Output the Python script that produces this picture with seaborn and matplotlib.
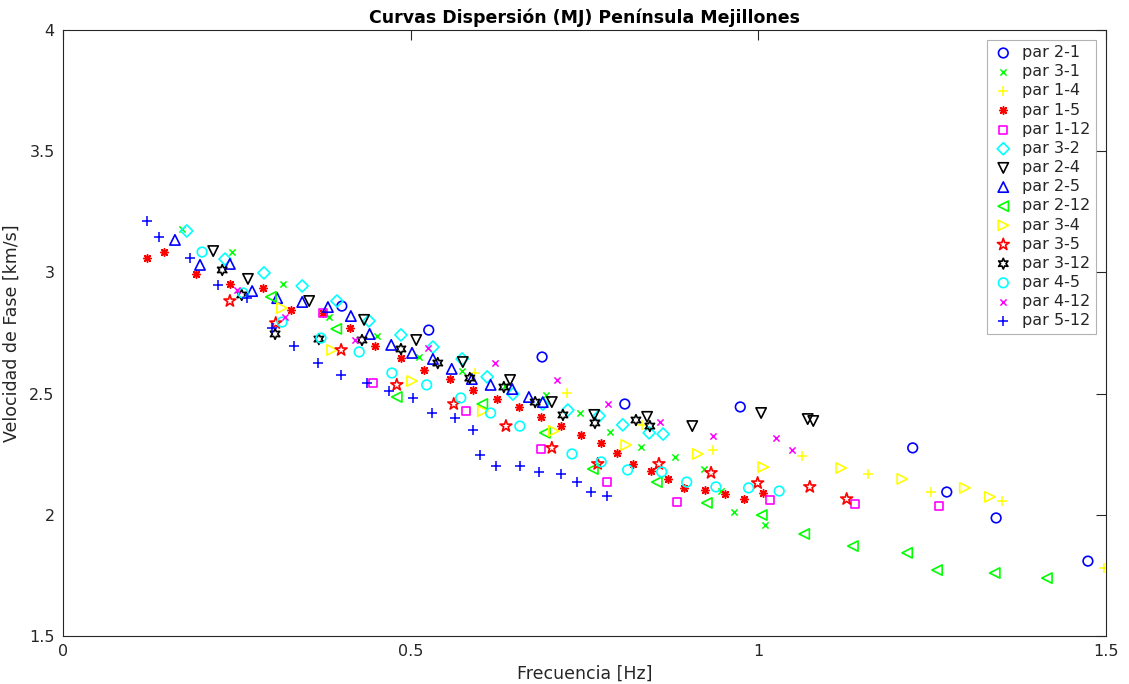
import matplotlib
matplotlib.use("Agg")
import matplotlib.pyplot as plt
import seaborn as sns
import numpy as np

# ---- data (Frecuencia [Hz], Velocidad de Fase [km/s]) ----
p21_x = [0.401, 0.526, 0.689, 0.808, 0.974, 1.222, 1.271, 1.342, 1.474]
p21_y = [2.861, 2.762, 2.651, 2.457, 2.445, 2.276, 2.094, 1.987, 1.809]

p31_x = [0.171, 0.243, 0.316, 0.383, 0.452, 0.512, 0.574, 0.636, 0.695, 0.744, 0.787, 0.831, 0.880, 0.922, 0.946, 0.965, 1.009]
p31_y = [3.179, 3.084, 2.952, 2.816, 2.738, 2.651, 2.593, 2.531, 2.494, 2.420, 2.342, 2.280, 2.239, 2.189, 2.098, 2.012, 1.958]

p14_x = [0.592, 0.725, 0.833, 0.935, 1.063, 1.158, 1.248, 1.350, 1.497]
p14_y = [2.585, 2.503, 2.371, 2.267, 2.243, 2.168, 2.094, 2.057, 1.781]

p15_x = [0.121, 0.145, 0.191, 0.240, 0.288, 0.328, 0.374, 0.413, 0.449, 0.486, 0.519, 0.557, 0.590, 0.624,
         0.656, 0.687, 0.716, 0.745, 0.774, 0.797, 0.820, 0.846, 0.870, 0.893, 0.923, 0.952, 0.979, 1.007]
p15_y = [3.059, 3.084, 2.993, 2.952, 2.936, 2.845, 2.833, 2.771, 2.696, 2.647, 2.597, 2.560, 2.515, 2.478,
         2.445, 2.404, 2.366, 2.329, 2.296, 2.255, 2.210, 2.181, 2.148, 2.111, 2.102, 2.086, 2.065, 2.090]

p112_x = [0.374, 0.446, 0.580, 0.687, 0.782, 0.883, 1.017, 1.139, 1.260]
p112_y = [2.833, 2.544, 2.428, 2.272, 2.135, 2.053, 2.061, 2.045, 2.036]

p32_x = [0.178, 0.233, 0.289, 0.344, 0.394, 0.440, 0.486, 0.532, 0.574, 0.610, 0.647, 0.690, 0.726, 0.771, 0.805, 0.843, 0.863]
p32_y = [3.171, 3.055, 2.998, 2.944, 2.882, 2.800, 2.742, 2.692, 2.643, 2.569, 2.498, 2.457, 2.432, 2.408, 2.371, 2.338, 2.333]

p24_x = [0.216, 0.266, 0.354, 0.433, 0.508, 0.575, 0.643, 0.703, 0.764, 0.840, 0.905, 1.004, 1.071, 1.079]
p24_y = [3.088, 2.973, 2.882, 2.804, 2.721, 2.630, 2.556, 2.465, 2.412, 2.404, 2.366, 2.420, 2.395, 2.387]

p25_x = [0.161, 0.197, 0.240, 0.272, 0.308, 0.344, 0.381, 0.414, 0.441, 0.472, 0.502, 0.532, 0.559, 0.588, 0.615, 0.646, 0.670, 0.690]
p25_y = [3.134, 3.031, 3.035, 2.923, 2.894, 2.878, 2.857, 2.820, 2.746, 2.701, 2.668, 2.643, 2.602, 2.560, 2.536, 2.519, 2.486, 2.465]

p212_x = [0.299, 0.393, 0.480, 0.603, 0.693, 0.762, 0.854, 0.926, 1.005, 1.066, 1.136, 1.214, 1.257, 1.340, 1.415]
p212_y = [2.899, 2.767, 2.486, 2.457, 2.338, 2.189, 2.135, 2.049, 1.999, 1.921, 1.871, 1.843, 1.772, 1.760, 1.739]

p34_x = [0.315, 0.387, 0.502, 0.604, 0.706, 0.810, 0.913, 1.007, 1.119, 1.207, 1.297, 1.333]
p34_y = [2.853, 2.680, 2.552, 2.428, 2.346, 2.288, 2.251, 2.197, 2.193, 2.148, 2.111, 2.074]

p35_x = [0.240, 0.306, 0.400, 0.480, 0.562, 0.637, 0.703, 0.769, 0.857, 0.932, 0.999, 1.074, 1.127]
p35_y = [2.882, 2.791, 2.680, 2.536, 2.457, 2.366, 2.276, 2.210, 2.210, 2.173, 2.131, 2.115, 2.065]

p312_x = [0.229, 0.257, 0.305, 0.368, 0.430, 0.486, 0.539, 0.585, 0.634, 0.679, 0.719, 0.765, 0.824, 0.844]
p312_y = [3.010, 2.907, 2.746, 2.725, 2.721, 2.684, 2.626, 2.564, 2.527, 2.465, 2.412, 2.379, 2.391, 2.366]

p45_x = [0.200, 0.259, 0.315, 0.371, 0.426, 0.473, 0.523, 0.572, 0.615, 0.657, 0.732, 0.774, 0.812, 0.861, 0.897, 0.939, 0.986, 1.030]
p45_y = [3.084, 2.915, 2.795, 2.729, 2.672, 2.585, 2.536, 2.482, 2.420, 2.366, 2.251, 2.218, 2.185, 2.177, 2.135, 2.115, 2.111, 2.098]

p412_x = [0.250, 0.319, 0.420, 0.525, 0.621, 0.710, 0.784, 0.858, 0.935, 1.025, 1.048]
p412_y = [2.927, 2.816, 2.721, 2.688, 2.626, 2.556, 2.457, 2.383, 2.325, 2.317, 2.267]

p512_x = [0.121, 0.138, 0.183, 0.223, 0.265, 0.301, 0.332, 0.367, 0.400, 0.437, 0.469, 0.503, 0.531, 0.564,
          0.590, 0.600, 0.623, 0.657, 0.684, 0.716, 0.739, 0.759, 0.782]
p512_y = [3.212, 3.146, 3.059, 2.948, 2.894, 2.771, 2.696, 2.626, 2.577, 2.544, 2.511, 2.482, 2.420, 2.399,
          2.350, 2.247, 2.201, 2.201, 2.177, 2.168, 2.135, 2.094, 2.078]

labels = ["par 2-1", "par 3-1", "par 1-4", "par 1-5", "par 1-12", "par 3-2", "par 2-4", "par 2-5",
          "par 2-12", "par 3-4", "par 3-5", "par 3-12", "par 4-5", "par 4-12", "par 5-12"]
series = [(p21_x, p21_y), (p31_x, p31_y), (p14_x, p14_y), (p15_x, p15_y), (p112_x, p112_y),
          (p32_x, p32_y), (p24_x, p24_y), (p25_x, p25_y), (p212_x, p212_y), (p34_x, p34_y),
          (p35_x, p35_y), (p312_x, p312_y), (p45_x, p45_y), (p412_x, p412_y), (p512_x, p512_y)]

# ---- styles ----
colors = ["#0000ff", "#00ff00", "#ffff00", "#ff0000", "#ff00ff", "#00ffff", "#000000", "#0000ff",
          "#00ff00", "#ffff00", "#ff0000", "#000000", "#00ffff", "#ff00ff", "#0000ff"]
markers = ["o", "x", "+", (8, 2, 0), "s", "D", "v", "^", "<", ">", "*", (6, 1, 0), "o", "x", "+"]
hollow = [True, False, False, False, True, True, True, True, True, True, True, True, True, False, False]
sizes = [48, 20, 45, 30, 32, 38, 55, 55, 55, 55, 80, 60, 48, 20, 45]

sns.set_style("white")
plt.rcParams["font.family"] = ["DejaVu Sans"]

fig = plt.figure(figsize=(11.29, 6.84), dpi=100)
ax = fig.add_axes([63 / 1129, 1 - 636 / 684, (1106 - 63) / 1129, (636 - 30) / 684])

for (xs, ys), lab, c, m, h, s in zip(series, labels, colors, markers, hollow, sizes):
    if h:
        sns.scatterplot(x=xs, y=ys, ax=ax, marker=m, s=s, color=c, facecolors="none",
                        edgecolors=c, linewidth=1.2, label=lab)
    else:
        sns.scatterplot(x=xs, y=ys, ax=ax, marker=m, s=s, color=c, linewidth=1.1, label=lab)

ax.set_xlim(0, 1.5)
ax.set_ylim(1.5, 4)
ax.set_xticks([0, 0.5, 1, 1.5])
ax.set_xticklabels(["0", "0.5", "1", "1.5"])
ax.set_yticks([1.5, 2, 2.5, 3, 3.5, 4])
ax.set_yticklabels(["1.5", "2", "2.5", "3", "3.5", "4"])
ax.tick_params(direction="in", length=7, width=0.8, top=True, right=True, labelsize=11.5,
               colors="#262626", pad=6)
for sp in ax.spines.values():
    sp.set_visible(True)
    sp.set_color("#262626")
    sp.set_linewidth(0.8)

ax.set_xlabel("Frecuencia [Hz]", fontsize=12.5, color="#262626", labelpad=4)
ax.set_ylabel("Velocidad de Fase [km/s]", fontsize=12.5, color="#262626", labelpad=6)
ax.set_title("Curvas Dispersión (MJ) Península Mejillones", fontsize=12.5, fontweight="bold",
             color="black", pad=5)

leg = ax.legend(loc="upper right", fontsize=11.5, frameon=True, fancybox=False,
                borderaxespad=0.6, handletextpad=0.5, labelspacing=0.26, borderpad=0.35,
                handlelength=1.4)
leg.get_frame().set_edgecolor("#a0a0a0")
leg.get_frame().set_linewidth(0.8)

fig.savefig("out.png", dpi=100)
